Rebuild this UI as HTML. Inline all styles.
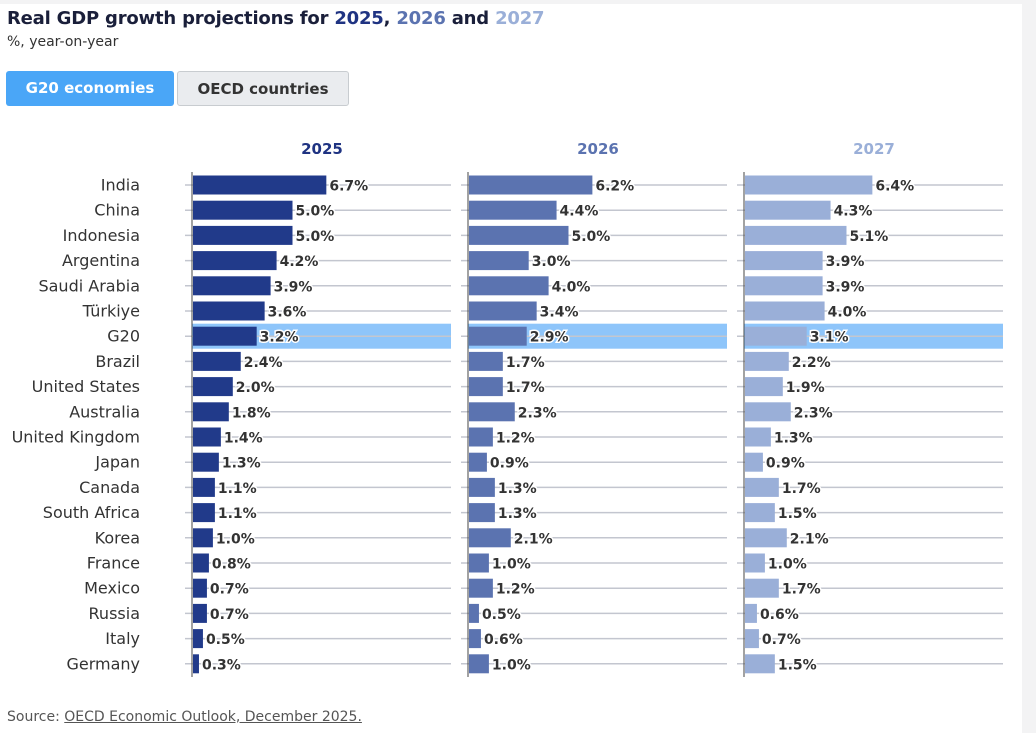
<!DOCTYPE html>
<html><head><meta charset="utf-8"><style>
body{margin:0;width:1036px;height:733px;background:#fff;font-family:"DejaVu Sans","Liberation Sans",sans-serif;position:relative;overflow:hidden}
.topbar{position:absolute;left:0;top:0;width:1036px;height:4px;background:#f3f3f4}
.rightbar{position:absolute;right:0;top:0;width:14px;height:733px;background:#f3f3f4}
h1{position:absolute;left:7px;top:8px;margin:0;font-size:18px;font-weight:bold;color:#1a1f3a;letter-spacing:-0.2px}
.sub{position:absolute;left:7px;top:34px;font-size:14px;color:#333}
.btn{position:absolute;top:71px;height:35px;border-radius:3px;font-size:15px;font-weight:bold;line-height:35px;text-align:center;box-sizing:border-box}
.b1{left:6px;width:168px;background:#4aa6f7;color:#fff}
.b2{left:177px;width:172px;background:#eaecef;color:#333;border:1px solid #c8ccd0}
.src{position:absolute;left:7px;top:709px;font-size:14px;color:#555}
.src a{color:#555;text-decoration:underline}
</style></head><body>
<div class="topbar"></div>
<div class="rightbar"></div>
<h1>Real GDP growth projections for <span style="color:#1f3382">2025</span>, <span style="color:#5b73b0">2026</span> and <span style="color:#9aafd8">2027</span></h1>
<div class="sub">%, year-on-year</div>
<div class="btn b1">G20 economies</div>
<div class="btn b2">OECD countries</div>
<svg id="chart" width="1036" height="733" style="position:absolute;left:0;top:0"></svg>
<div class="src">Source: <a>OECD Economic Outlook, December 2025.</a></div>
<script>
const countries=["India","China","Indonesia","Argentina","Saudi Arabia","Türkiye","G20","Brazil","United States","Australia","United Kingdom","Japan","Canada","South Africa","Korea","France","Mexico","Russia","Italy","Germany"];
const years=["2025","2026","2027"];
const v2025=[6.7,5.0,5.0,4.2,3.9,3.6,3.2,2.4,2.0,1.8,1.4,1.3,1.1,1.1,1.0,0.8,0.7,0.7,0.5,0.3];
const v2026=[6.2,4.4,5.0,3.0,4.0,3.4,2.9,1.7,1.7,2.3,1.2,0.9,1.3,1.3,2.1,1.0,1.2,0.5,0.6,1.0];
const v2027=[6.4,4.3,5.1,3.9,3.9,4.0,3.1,2.2,1.9,2.3,1.3,0.9,1.7,1.5,2.1,1.0,1.7,0.6,0.7,1.5];
const series=[v2025,v2026,v2027];
const colors=["#213a8a","#5b73b0","#9aafd8"];
const titleColors=["#1f3382","#5b73b0","#9aafd8"];
const NS="http://www.w3.org/2000/svg";
const svg=document.getElementById('chart');
const panelX=i=>192+i*276;
const xs=v=>v*19.9;
const yc=i=>185+i*25.2;
function mk(t,a,p){const e=document.createElementNS(NS,t);for(const k in a)e.setAttribute(k,a[k]);(p||svg).appendChild(e);return e;}
countries.forEach((c,i)=>{
  const t=mk('text',{x:140,y:yc(i)+5.5,'text-anchor':'end','font-size':16,fill:'#333'});
  t.textContent=c;
  
  
});
series.forEach((vals,p)=>{
  const x0=panelX(p);
  const ht=mk('text',{x:x0+130,y:154,'text-anchor':'middle','font-size':15,'font-weight':'bold',fill:titleColors[p]});
  ht.textContent=years[p];
  
  
  const hl=mk('rect',{x:x0,y:yc(6)-12.5,width:259,height:25,fill:'#8ec5fa'});
  
  
  vals.forEach((v,i)=>{
    const g=mk('line',{x1:x0-7,x2:x0+259,y1:yc(i),y2:yc(i),stroke:'#c3c6cf','stroke-width':1.5});
    
    
    const b=mk('rect',{x:x0+1,y:yc(i)-9.5,width:xs(v),height:19,fill:colors[p]});
    
    
    const lt=mk('text',{x:x0+xs(v)+4,y:yc(i)+5.5,'font-size':14,'font-weight':'bold',fill:'#333',stroke:'#fff','stroke-width':3,'paint-order':'stroke'});
    lt.textContent=v.toFixed(1)+'%';
    
    
  });
  const ax=mk('line',{x1:x0,x2:x0,y1:172,y2:677,stroke:'#444','stroke-width':1});
  
  
});
</script>
</body></html>
